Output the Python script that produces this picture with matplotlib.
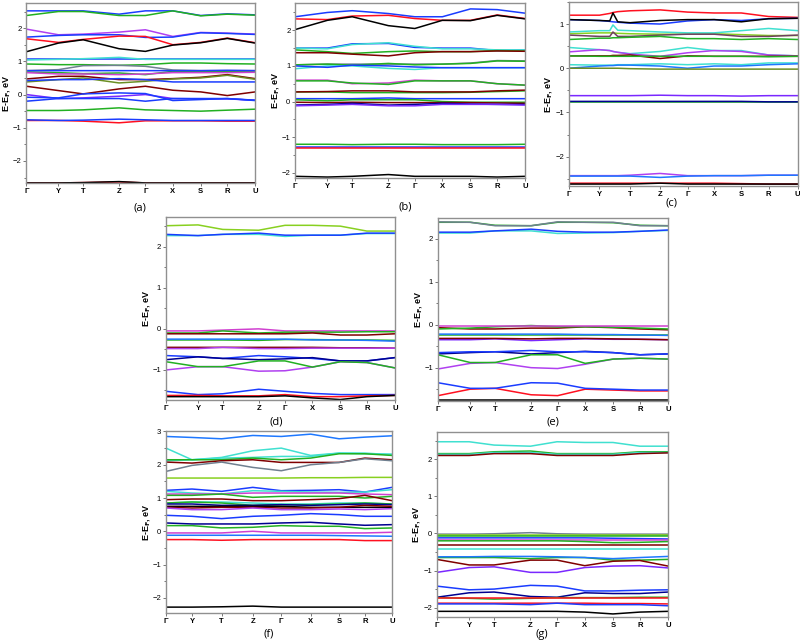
import matplotlib
matplotlib.use('Agg')
import matplotlib.pyplot as plt
from matplotlib.ticker import MultipleLocator

plt.rcParams['font.family'] = ['Liberation Sans', 'DejaVu Sans']

blk = '#000000'
red = '#ff1020'
blu = '#1a3cff'
grn = '#22b022'
vio = '#b040f0'
mag = '#d040d0'
cyn = '#40e0d0'
brn = '#800000'
gry = '#708090'
lim = '#88d020'
nav = '#000090'
pur = '#7a28ff'
dbl = '#1e78ff'
olv = '#6b8e23'
plm = '#704060'

k_labels = ['Γ', 'Y', 'T', 'Z', 'Γ', 'X', 'S', 'R', 'U']
k_pos = [0, 0.14, 0.248, 0.405, 0.52, 0.64, 0.762, 0.878, 1.0]
f_pos = [0, 0.115, 0.246, 0.384, 0.51, 0.64, 0.766, 0.88, 1.0]
# panel (c) has a small spike between Y and T
c_pos = [0, 0.134, 0.179, 0.193, 0.214, 0.268, 0.399, 0.519, 0.635, 0.754, 0.873, 1.0]
c_ticks = [0, 0.134, 0.268, 0.399, 0.519, 0.635, 0.754, 0.873, 1.0]

# ---- (a) ----
a_colors = [blu, grn, vio, blu, red, blk, blu, cyn, grn, gry, grn, blu, mag, brn, olv, blu,
            brn, pur, blu, blu, grn, red, blu, red, blk]
a_bands = [
    [2.52, 2.52, 2.52, 2.42, 2.52, 2.52, 2.38, 2.43, 2.40],
    [2.38, 2.50, 2.50, 2.38, 2.38, 2.52, 2.37, 2.42, 2.39],
    [1.97, 1.80, 1.82, 1.88, 1.95, 1.75, 1.87, 1.85, 1.82],
    [1.73, 1.78, 1.80, 1.80, 1.72, 1.73, 1.86, 1.84, 1.81],
    [1.68, 1.57, 1.66, 1.76, 1.75, 1.50, 1.57, 1.70, 1.56],
    [1.29, 1.55, 1.65, 1.38, 1.30, 1.49, 1.56, 1.69, 1.55],
    [1.07, 1.07, 1.07, 1.07, 1.07, 1.07, 1.07, 1.07, 1.07],
    [1.04, 1.06, 1.08, 1.12, 1.06, 1.06, 1.06, 1.06, 1.06],
    [0.92, 0.90, 0.90, 0.88, 0.90, 0.95, 0.95, 0.93, 0.92],
    [0.72, 0.75, 0.87, 0.88, 0.85, 0.74, 0.72, 0.72, 0.72],
    [0.68, 0.66, 0.63, 0.65, 0.60, 0.70, 0.70, 0.70, 0.70],
    [0.72, 0.72, 0.72, 0.72, 0.72, 0.72, 0.72, 0.73, 0.72],
    [0.66, 0.62, 0.62, 0.60, 0.62, 0.66, 0.66, 0.66, 0.67],
    [0.47, 0.55, 0.55, 0.45, 0.45, 0.48, 0.52, 0.60, 0.48],
    [0.38, 0.45, 0.50, 0.35, 0.40, 0.47, 0.50, 0.58, 0.46],
    [0.42, 0.45, 0.45, 0.48, 0.45, 0.38, 0.38, 0.38, 0.38],
    [0.25, 0.12, 0.02, 0.17, 0.25, 0.13, 0.08, -0.03, 0.08],
    [0.00, -0.12, -0.10, -0.05, 0.00, -0.12, -0.13, -0.13, -0.17],
    [-0.20, -0.12, -0.12, -0.12, -0.20, -0.12, -0.12, -0.12, -0.18],
    [-0.08, -0.10, 0.02, 0.05, 0.03, -0.18, -0.15, -0.12, -0.17],
    [-0.48, -0.48, -0.46, -0.40, -0.46, -0.48, -0.50, -0.47, -0.44],
    [-0.78, -0.78, -0.80, -0.85, -0.79, -0.79, -0.79, -0.80, -0.80],
    [-0.76, -0.78, -0.77, -0.74, -0.76, -0.78, -0.78, -0.78, -0.78],
    [-2.66, -2.66, -2.65, -2.63, -2.66, -2.66, -2.66, -2.66, -2.66],
    [-2.66, -2.66, -2.65, -2.62, -2.66, -2.66, -2.66, -2.66, -2.66],
]

# ---- (b) ----
b_colors = [blu, red, blk, blu, cyn, grn, brn, gry, grn, cyn, blu, mag, grn, grn, brn, blu,
            grn, brn, nav, pur, grn, blu, red, blk]
b_bands = [
    [2.38, 2.50, 2.55, 2.47, 2.38, 2.38, 2.60, 2.58, 2.48],
    [2.32, 2.30, 2.40, 2.42, 2.33, 2.28, 2.28, 2.43, 2.33],
    [2.02, 2.28, 2.38, 2.13, 2.05, 2.28, 2.27, 2.42, 2.32],
    [1.50, 1.50, 1.62, 1.63, 1.52, 1.50, 1.50, 1.43, 1.45],
    [1.50, 1.48, 1.60, 1.65, 1.55, 1.48, 1.48, 1.45, 1.45],
    [1.45, 1.40, 1.35, 1.40, 1.42, 1.40, 1.40, 1.43, 1.42],
    [1.37, 1.37, 1.33, 1.28, 1.37, 1.40, 1.40, 1.42, 1.41],
    [1.03, 1.05, 1.05, 1.05, 1.05, 1.05, 1.08, 1.15, 1.14],
    [1.03, 1.05, 1.02, 1.07, 1.03, 1.05, 1.07, 1.14, 1.13],
    [0.92, 1.00, 1.00, 0.93, 0.90, 0.95, 0.95, 0.95, 0.95],
    [1.00, 0.96, 1.02, 1.00, 0.97, 0.95, 0.95, 0.95, 0.95],
    [0.60, 0.60, 0.50, 0.52, 0.60, 0.58, 0.58, 0.50, 0.46],
    [0.58, 0.58, 0.52, 0.48, 0.58, 0.58, 0.58, 0.50, 0.46],
    [0.27, 0.27, 0.25, 0.25, 0.25, 0.25, 0.26, 0.28, 0.30],
    [0.27, 0.28, 0.30, 0.30, 0.27, 0.27, 0.27, 0.30, 0.32],
    [0.08, 0.08, 0.08, 0.10, 0.08, 0.08, 0.08, 0.08, 0.08],
    [0.05, 0.02, 0.05, 0.05, 0.05, 0.00, -0.02, -0.02, -0.02],
    [-0.02, -0.03, -0.02, -0.03, -0.03, -0.03, -0.03, -0.04, -0.05],
    [-0.10, -0.08, -0.05, -0.10, -0.08, -0.05, -0.07, -0.08, -0.08],
    [-0.12, -0.10, -0.08, -0.12, -0.12, -0.08, -0.08, -0.08, -0.10],
    [-1.20, -1.20, -1.21, -1.20, -1.20, -1.21, -1.21, -1.21, -1.20],
    [-1.28, -1.28, -1.28, -1.28, -1.28, -1.28, -1.28, -1.28, -1.28],
    [-1.30, -1.30, -1.30, -1.30, -1.30, -1.30, -1.30, -1.30, -1.30],
    [-2.10, -2.12, -2.10, -2.05, -2.10, -2.10, -2.10, -2.12, -2.10],
]

# ---- (c) ----
c_colors = [red, blu, blk, lim, cyn, plm, grn, cyn, vio, brn, grn, cyn, dbl, olv, pur, grn, nav,
            vio, dbl, red, blk]
c_bands = [
    [1.20, 1.20, 1.24, 1.26, 1.28, 1.30, 1.32, 1.27, 1.25, 1.25, 1.17, 1.15],
    [1.10, 1.08, 1.06, 1.05, 1.04, 1.02, 1.00, 1.07, 1.10, 1.08, 1.12, 1.13],
    [1.10, 1.08, 1.07, 1.25, 1.05, 1.03, 1.08, 1.10, 1.10, 1.05, 1.12, 1.13],
    [0.78, 0.80, 0.80, 0.80, 0.79, 0.78, 0.77, 0.77, 0.78, 0.76, 0.74, 0.74],
    [0.82, 0.85, 0.85, 0.98, 0.86, 0.85, 0.82, 0.80, 0.80, 0.85, 0.90, 0.85],
    [0.75, 0.72, 0.72, 0.82, 0.72, 0.72, 0.75, 0.77, 0.77, 0.72, 0.72, 0.75],
    [0.65, 0.68, 0.68, 0.69, 0.69, 0.70, 0.72, 0.67, 0.67, 0.65, 0.67, 0.65],
    [0.47, 0.42, 0.40, 0.38, 0.36, 0.33, 0.38, 0.47, 0.40, 0.40, 0.30, 0.28],
    [0.37, 0.42, 0.40, 0.38, 0.36, 0.32, 0.27, 0.35, 0.40, 0.38, 0.30, 0.28],
    [0.28, 0.28, 0.28, 0.29, 0.29, 0.30, 0.22, 0.28, 0.27, 0.27, 0.27, 0.27],
    [0.28, 0.27, 0.27, 0.27, 0.27, 0.27, 0.27, 0.27, 0.27, 0.27, 0.26, 0.27],
    [0.08, 0.07, 0.07, 0.07, 0.08, 0.08, 0.10, 0.08, 0.10, 0.08, 0.12, 0.12],
    [0.00, 0.05, 0.06, 0.06, 0.07, 0.07, 0.05, 0.00, 0.05, 0.05, 0.08, 0.10],
    [0.00, 0.00, 0.00, 0.00, 0.00, -0.01, -0.02, -0.02, -0.02, -0.02, -0.02, -0.02],
    [-0.62, -0.62, -0.62, -0.62, -0.62, -0.62, -0.61, -0.62, -0.62, -0.63, -0.62, -0.62],
    [-0.77, -0.77, -0.77, -0.77, -0.77, -0.77, -0.77, -0.77, -0.77, -0.77, -0.77, -0.77],
    [-0.75, -0.75, -0.75, -0.75, -0.75, -0.75, -0.75, -0.75, -0.75, -0.75, -0.76, -0.76],
    [-2.43, -2.43, -2.43, -2.43, -2.43, -2.42, -2.38, -2.43, -2.43, -2.43, -2.42, -2.42],
    [-2.44, -2.44, -2.44, -2.44, -2.44, -2.44, -2.47, -2.44, -2.43, -2.43, -2.42, -2.42],
    [-2.60, -2.60, -2.60, -2.60, -2.60, -2.60, -2.60, -2.60, -2.60, -2.61, -2.62, -2.62],
    [-2.62, -2.62, -2.62, -2.62, -2.62, -2.62, -2.60, -2.62, -2.62, -2.62, -2.62, -2.62],
]

# ---- (d) ----
d_colors = [lim, cyn, blu, mag, grn, brn, grn, dbl, brn, vio, blu, nav, vio, grn, blu, red, blk]
d_bands = [
    [2.51, 2.53, 2.42, 2.40, 2.52, 2.52, 2.50, 2.38, 2.38],
    [2.27, 2.27, 2.30, 2.30, 2.25, 2.28, 2.28, 2.32, 2.32],
    [2.30, 2.27, 2.30, 2.33, 2.28, 2.28, 2.28, 2.33, 2.33],
    [-0.05, -0.05, -0.03, 0.00, -0.05, -0.05, -0.05, -0.05, -0.05],
    [-0.10, -0.10, -0.05, -0.10, -0.08, -0.08, -0.08, -0.07, -0.07],
    [-0.12, -0.12, -0.12, -0.12, -0.12, -0.10, -0.15, -0.15, -0.12],
    [-0.27, -0.27, -0.27, -0.28, -0.26, -0.26, -0.27, -0.27, -0.28],
    [-0.25, -0.25, -0.25, -0.25, -0.25, -0.27, -0.27, -0.28, -0.30],
    [-0.45, -0.45, -0.45, -0.45, -0.45, -0.45, -0.46, -0.46, -0.47],
    [-0.48, -0.48, -0.45, -0.48, -0.48, -0.47, -0.47, -0.47, -0.47],
    [-0.65, -0.68, -0.72, -0.65, -0.68, -0.72, -0.78, -0.78, -0.70],
    [-0.75, -0.68, -0.72, -0.75, -0.73, -0.70, -0.78, -0.78, -0.70],
    [-1.00, -0.92, -0.92, -1.03, -1.02, -0.93, -0.80, -0.82, -0.95],
    [-0.80, -0.92, -0.92, -0.78, -0.78, -0.93, -0.80, -0.82, -0.95],
    [-1.52, -1.60, -1.58, -1.47, -1.52, -1.57, -1.60, -1.60, -1.60],
    [-1.62, -1.62, -1.63, -1.63, -1.60, -1.65, -1.65, -1.63, -1.62],
    [-1.65, -1.65, -1.65, -1.65, -1.63, -1.68, -1.72, -1.65, -1.62],
]

# ---- (e) ----
e_colors = [grn, gry, cyn, blu, brn, grn, mag, grn, dbl, pur, brn, nav, blu, vio, grn, red, blu, blk]
e_bands = [
    [2.38, 2.38, 2.31, 2.30, 2.38, 2.38, 2.37, 2.31, 2.30],
    [2.39, 2.38, 2.30, 2.30, 2.39, 2.38, 2.38, 2.30, 2.30],
    [2.13, 2.13, 2.18, 2.18, 2.12, 2.13, 2.14, 2.17, 2.19],
    [2.15, 2.15, 2.18, 2.22, 2.17, 2.15, 2.15, 2.17, 2.20],
    [-0.07, -0.10, -0.10, -0.08, -0.08, -0.05, -0.07, -0.10, -0.12],
    [-0.10, -0.08, -0.05, -0.02, -0.05, -0.05, -0.06, -0.08, -0.10],
    [-0.02, -0.02, -0.02, -0.02, -0.02, -0.02, -0.02, -0.02, -0.02],
    [-0.25, -0.25, -0.25, -0.25, -0.25, -0.25, -0.25, -0.25, -0.25],
    [-0.22, -0.22, -0.22, -0.22, -0.22, -0.23, -0.23, -0.24, -0.25],
    [-0.35, -0.35, -0.33, -0.37, -0.35, -0.33, -0.34, -0.34, -0.35],
    [-0.32, -0.32, -0.32, -0.33, -0.32, -0.32, -0.33, -0.34, -0.35],
    [-0.68, -0.65, -0.63, -0.68, -0.65, -0.62, -0.65, -0.70, -0.68],
    [-0.65, -0.63, -0.63, -0.60, -0.63, -0.63, -0.65, -0.70, -0.68],
    [-1.03, -0.90, -0.88, -1.00, -1.02, -0.92, -0.80, -0.78, -0.80],
    [-0.70, -0.88, -0.88, -0.70, -0.70, -0.90, -0.80, -0.78, -0.80],
    [-1.65, -1.50, -1.48, -1.63, -1.65, -1.50, -1.52, -1.54, -1.54],
    [-1.35, -1.48, -1.48, -1.35, -1.36, -1.48, -1.50, -1.52, -1.52],
    [-1.75, -1.75, -1.75, -1.75, -1.75, -1.75, -1.75, -1.75, -1.75],
]

# ---- (f) ----
f_colors = [dbl, cyn, cyn, grn, brn, gry, lim, blu, cyn, mag, grn, brn, cyn, grn, nav, blk, brn,
            vio, blu, nav, grn, mag, dbl, red, blk]
f_bands = [
    [2.85, 2.82, 2.78, 2.88, 2.85, 2.92, 2.78, 2.83, 2.87],
    [2.50, 2.15, 2.22, 2.42, 2.50, 2.28, 2.35, 2.33, 2.32],
    [2.12, 2.15, 2.20, 2.22, 2.25, 2.25, 2.35, 2.35, 2.30],
    [2.15, 2.15, 2.15, 2.20, 2.15, 2.20, 2.33, 2.33, 2.28],
    [2.08, 2.05, 2.12, 2.15, 2.07, 2.07, 2.07, 2.20, 2.15],
    [1.80, 1.98, 2.08, 1.92, 1.82, 2.00, 2.07, 2.18, 2.12],
    [1.60, 1.60, 1.60, 1.60, 1.60, 1.61, 1.61, 1.62, 1.62],
    [1.23, 1.27, 1.20, 1.32, 1.22, 1.23, 1.25, 1.18, 1.32],
    [1.20, 1.15, 1.12, 1.22, 1.20, 1.18, 1.17, 1.18, 1.25],
    [1.12, 1.12, 1.12, 1.15, 1.15, 1.15, 1.15, 1.12, 1.10],
    [1.08, 1.08, 1.12, 1.02, 1.05, 1.05, 1.05, 1.00, 1.05],
    [0.95, 0.97, 0.97, 0.92, 0.92, 0.95, 0.98, 1.08, 0.92],
    [0.85, 0.88, 0.88, 0.85, 0.82, 0.82, 0.85, 0.85, 0.82],
    [0.85, 0.88, 0.85, 0.78, 0.80, 0.80, 0.82, 0.85, 0.82],
    [0.82, 0.82, 0.78, 0.78, 0.80, 0.78, 0.80, 0.82, 0.80],
    [0.75, 0.75, 0.75, 0.75, 0.75, 0.72, 0.72, 0.72, 0.72],
    [0.72, 0.70, 0.72, 0.72, 0.70, 0.70, 0.72, 0.78, 0.75],
    [0.70, 0.65, 0.65, 0.70, 0.65, 0.65, 0.67, 0.65, 0.68],
    [0.48, 0.45, 0.38, 0.45, 0.48, 0.53, 0.50, 0.45, 0.45],
    [0.25, 0.22, 0.22, 0.22, 0.25, 0.27, 0.22, 0.18, 0.20],
    [0.17, 0.17, 0.10, 0.12, 0.17, 0.15, 0.15, 0.08, 0.10],
    [-0.05, -0.05, -0.05, 0.00, -0.05, -0.05, -0.05, -0.05, -0.03],
    [-0.12, -0.12, -0.12, -0.12, -0.12, -0.12, -0.13, -0.14, -0.15],
    [-0.25, -0.25, -0.27, -0.25, -0.25, -0.25, -0.25, -0.28, -0.28],
    [-2.28, -2.28, -2.27, -2.25, -2.28, -2.28, -2.28, -2.28, -2.28],
]

# ---- (g) ----
g_colors = [cyn, grn, cyn, brn, gry, lim, grn, blu, mag, grn, brn, cyn, grn, dbl, brn,
            pur, blu, nav, grn, red, red, blu, blk]
g_bands = [
    [2.47, 2.47, 2.38, 2.35, 2.47, 2.45, 2.45, 2.35, 2.35],
    [2.15, 2.15, 2.20, 2.22, 2.15, 2.15, 2.15, 2.20, 2.20],
    [2.13, 2.13, 2.18, 2.18, 2.13, 2.13, 2.13, 2.18, 2.18],
    [2.10, 2.10, 2.15, 2.15, 2.10, 2.10, 2.10, 2.15, 2.17],
    [-0.02, -0.02, -0.01, 0.02, -0.01, -0.02, -0.02, -0.02, -0.02],
    [-0.05, -0.05, -0.05, -0.05, -0.05, -0.05, -0.05, -0.05, -0.05],
    [-0.08, -0.08, -0.08, -0.08, -0.08, -0.08, -0.08, -0.08, -0.08],
    [-0.12, -0.12, -0.12, -0.12, -0.12, -0.12, -0.13, -0.14, -0.15],
    [-0.18, -0.18, -0.18, -0.18, -0.18, -0.18, -0.18, -0.18, -0.18],
    [-0.20, -0.20, -0.20, -0.20, -0.20, -0.22, -0.25, -0.24, -0.22],
    [-0.32, -0.32, -0.32, -0.32, -0.32, -0.32, -0.32, -0.32, -0.32],
    [-0.43, -0.43, -0.43, -0.43, -0.43, -0.43, -0.43, -0.43, -0.43],
    [-0.65, -0.65, -0.65, -0.68, -0.65, -0.65, -0.72, -0.72, -0.70],
    [-0.63, -0.63, -0.62, -0.62, -0.63, -0.65, -0.68, -0.65, -0.62],
    [-0.70, -0.85, -0.85, -0.72, -0.72, -0.87, -0.75, -0.73, -0.88],
    [-1.05, -0.92, -0.90, -1.05, -1.05, -0.92, -0.88, -0.87, -0.93],
    [-1.42, -1.52, -1.50, -1.40, -1.42, -1.55, -1.55, -1.53, -1.52],
    [-1.72, -1.60, -1.58, -1.70, -1.72, -1.60, -1.62, -1.62, -1.58],
    [-1.73, -1.75, -1.77, -1.75, -1.73, -1.73, -1.73, -1.72, -1.72],
    [-1.75, -1.75, -1.75, -1.75, -1.75, -1.75, -1.75, -1.75, -1.75],
    [-1.88, -1.88, -1.88, -1.88, -1.88, -1.88, -1.89, -1.89, -1.90],
    [-1.90, -1.90, -1.90, -1.92, -1.88, -1.92, -1.92, -1.92, -1.95],
    [-2.10, -2.10, -2.10, -2.10, -2.10, -2.12, -2.17, -2.12, -2.10],
]

fig = plt.figure(figsize=(8, 6.43), dpi=100)


def panel(rect, xs, ticks, bands, colors, ylim, label, lxy):
    ax = fig.add_axes(rect)
    for c, v in zip(colors, bands):
        ax.plot(xs, v, color=c, lw=1.1, solid_joinstyle='round')
    ax.set_xlim(0, 1)
    ax.set_ylim(*ylim)
    ax.set_xticks(ticks)
    ax.set_xticklabels(k_labels, fontweight='bold', fontsize=5.5)
    ax.yaxis.set_major_locator(MultipleLocator(1))
    ax.yaxis.set_minor_locator(MultipleLocator(0.5))
    ax.tick_params(axis='both', which='major', length=2.5, width=0.6, pad=1, labelsize=5.5,
                   color='#606060')
    ax.tick_params(axis='y', which='minor', length=1.5, width=0.6, color='#606060')
    for s in ax.spines.values():
        s.set_color('#909090')
        s.set_linewidth(1.0)
    ax.set_ylabel(r'E-E$_\mathbf{F}$, eV', fontweight='bold', fontsize=6.5, labelpad=0.5)
    fig.text(lxy[0] / 800, 1 - lxy[1] / 643, label, ha='center', va='center', fontsize=8,
             family='Open Sans')
    return ax


panel([0.033, 0.715, 0.286, 0.280], k_pos, k_pos, a_bands, a_colors, (-2.67, 2.75), '(a)', (140, 208))
panel([0.369, 0.723, 0.2875, 0.272], k_pos, k_pos, b_bands, b_colors, (-2.15, 2.76), '(b)', (405, 207))
panel([0.711, 0.711, 0.286, 0.286], c_pos, c_ticks, c_bands, c_colors, (-2.66, 1.50), '(c)', (672, 203))
panel([0.2075, 0.378, 0.286, 0.285], k_pos, k_pos, d_bands, d_colors, (-1.73, 2.73), '(d)', (276, 422))
panel([0.5475, 0.376, 0.2875, 0.285], k_pos, k_pos, e_bands, e_colors, (-1.78, 2.48), '(e)', (553, 422))
panel([0.2075, 0.047, 0.2825, 0.283], f_pos, f_pos, f_bands, f_colors, (-2.45, 3.02), '(f)', (269, 634))
panel([0.546, 0.040, 0.289, 0.288], k_pos, k_pos, g_bands, g_colors, (-2.26, 2.73), '(g)', (542, 635))

fig.savefig('out.png', dpi=100)
